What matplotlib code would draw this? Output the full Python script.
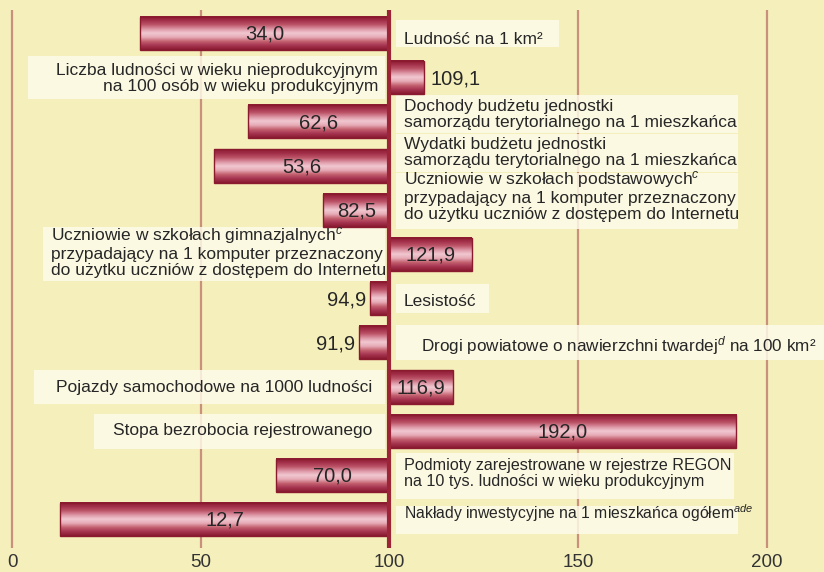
import numpy as np
import matplotlib
matplotlib.use("Agg")
import matplotlib.pyplot as plt
from matplotlib.colors import LinearSegmentedColormap
from matplotlib.patches import Rectangle

plt.rcParams['font.family'] = ['Liberation Sans', 'DejaVu Sans']
plt.rcParams['mathtext.fontset'] = 'custom'
plt.rcParams['mathtext.rm'] = 'Liberation Sans'
plt.rcParams['mathtext.it'] = 'Liberation Sans:italic'

# ---------------- data ----------------
categories = [
    "Ludność na 1 km²",
    "Liczba ludności w wieku nieprodukcyjnym\nna 100 osób w wieku produkcyjnym",
    "Dochody budżetu jednostki\nsamorządu terytorialnego na 1 mieszkańca",
    "Wydatki budżetu jednostki\nsamorządu terytorialnego na 1 mieszkańca",
    "Uczniowie w szkołach podstawowych$^{c}$\nprzypadający na 1 komputer przeznaczony\ndo użytku uczniów z dostępem do Internetu",
    "Uczniowie w szkołach gimnazjalnych$^{c}$\nprzypadający na 1 komputer przeznaczony\ndo użytku uczniów z dostępem do Internetu",
    "Lesistość",
    "Drogi powiatowe o nawierzchni twardej$^{d}$ na 100 km²",
    "Pojazdy samochodowe na 1000 ludności",
    "Stopa bezrobocia rejestrowanego",
    "Podmioty zarejestrowane w rejestrze REGON\nna 10 tys. ludności w wieku produkcyjnym",
    "Nakłady inwestycyjne na 1 mieszkańca ogółem$^{ade}$",
]
values = [34.0, 109.1, 62.6, 53.6, 82.5, 121.9, 94.9, 91.9, 116.9, 192.0, 70.0, 12.7]
xticks = [0, 50, 100, 150, 200]

# ---------------- layout (pixel helpers) ----------------
W, H = 824, 572
X0_PX, PX_PER_UNIT = 12.0, 3.773
Y0_PX, PX_PER_ROW = 33.5, 44.18
AX_TOP_PX, AX_BOT_PX = 10, 548


def px_x(p):
    return (p - X0_PX) / PX_PER_UNIT


def px_y(p):
    return (p - Y0_PX) / PX_PER_ROW


# label boxes: (left, right, top, bottom) in px
box_px = [(396, 559, 20, 47), (28, 385, 56, 99), (396, 738, 95, 133),
          (396, 738, 134, 172), (396, 738, 173, 229), (43, 385, 227, 281),
          (396, 489, 284, 313), (396, 830, 325, 360), (34, 385, 370, 404),
          (94, 385, 414, 449), (396, 734, 453, 499), (396, 738, 506, 534)]
# label text anchor: (x px, last-line baseline px, ha)
text_px = [(404, 44, 'left'), (378, 91, 'right'), (404, 126.7, 'left'),
           (404, 165, 'left'), (404, 219.3, 'left'), (51, 275, 'left'),
           (404, 306, 'left'), (816, 351, 'right'), (372, 391.7, 'right'),
           (372, 435, 'right'), (404, 485.7, 'left'), (404, 519, 'left')]
label_sizes = [12.5, 12.5, 12.5, 12.5, 12.5, 12.5, 12.5, 12.3, 12.5, 12.5,
               11.6, 11.3]

BG = '#F5EFBB'
BOX = '#FEFCEC'
GRID = '#C9907C'
CENTER = '#9B2436'
EDGE = '#8A1A2E'
TXT = '#262626'

fig = plt.figure(figsize=(W / 100, H / 100), dpi=100, facecolor=BG)
ax = fig.add_axes([0, (H - AX_BOT_PX) / H, 1, (AX_BOT_PX - AX_TOP_PX) / H])
ax.set_facecolor(BG)
xlim = (px_x(0), px_x(W))
ylim = (px_y(AX_BOT_PX), px_y(AX_TOP_PX))

for s in ax.spines.values():
    s.set_visible(False)
ax.set_xticks(xticks)
ax.set_xticklabels([str(t) for t in xticks])
ax.tick_params(axis='x', length=0, pad=4, labelsize=13.5, labelcolor='#333333')
ax.set_yticks([])
for t in xticks:
    if t != 100:
        ax.axvline(t, color=GRID, lw=1.6, zorder=1)

y = np.arange(len(values))
vals = np.array(values)
bars = ax.barh(y, vals - 100, left=100, height=0.75, color='none',
               edgecolor=EDGE, linewidth=1.0, zorder=4)

cmap = LinearSegmentedColormap.from_list(
    'barg', ['#8C1B31', '#A3304A', '#BC5468', '#DC94A3', '#F2C9D1',
             '#E6AAB6', '#C4606F', '#A53450', '#8A1A30'])
grad = np.linspace(0, 1, 64).reshape(-1, 1)
for b in bars:
    x0 = min(b.get_x(), b.get_x() + b.get_width())
    x1 = max(b.get_x(), b.get_x() + b.get_width())
    y0 = b.get_y()
    y1 = b.get_y() + b.get_height()
    ax.imshow(grad, cmap=cmap, aspect='auto', extent=[x0, x1, y1, y0],
              origin='upper', zorder=3, interpolation='bilinear')

ax.axvline(100, color=CENTER, lw=3, zorder=5)

# label boxes and texts
for cat, (bl, br, bt, bb), (tx, ty, ha), fs in zip(categories, box_px,
                                                    text_px, label_sizes):
    ax.add_patch(Rectangle((px_x(bl), px_y(bt)), px_x(br) - px_x(bl),
                           px_y(bb) - px_y(bt), facecolor=BOX, alpha=0.82,
                           edgecolor='none', zorder=2))
    ax.text(px_x(tx), px_y(ty), cat, ha=ha, va='baseline', fontsize=fs,
            color=TXT, linespacing=1.1, zorder=6, multialignment=ha)

# value labels
off = 6.5 / PX_PER_ROW
for yi, v in zip(y, vals):
    s = f"{v:.1f}".replace('.', ',')
    length = abs(v - 100)
    if length >= 12:
        ax.text((v + 100) / 2, yi + off, s, ha='center', va='baseline',
                fontsize=14.5, color=TXT, zorder=6)
    elif v > 100:
        ax.text(v + 7 / PX_PER_UNIT, yi + off, s, ha='left', va='baseline',
                fontsize=14.5, color=TXT, zorder=6)
    else:
        ax.text(v - 4 / PX_PER_UNIT, yi + off, s, ha='right', va='baseline',
                fontsize=14.5, color=TXT, zorder=6)

ax.set_xlim(*xlim)
ax.set_ylim(*ylim)
fig.savefig('out.png', dpi=100, facecolor=BG)
